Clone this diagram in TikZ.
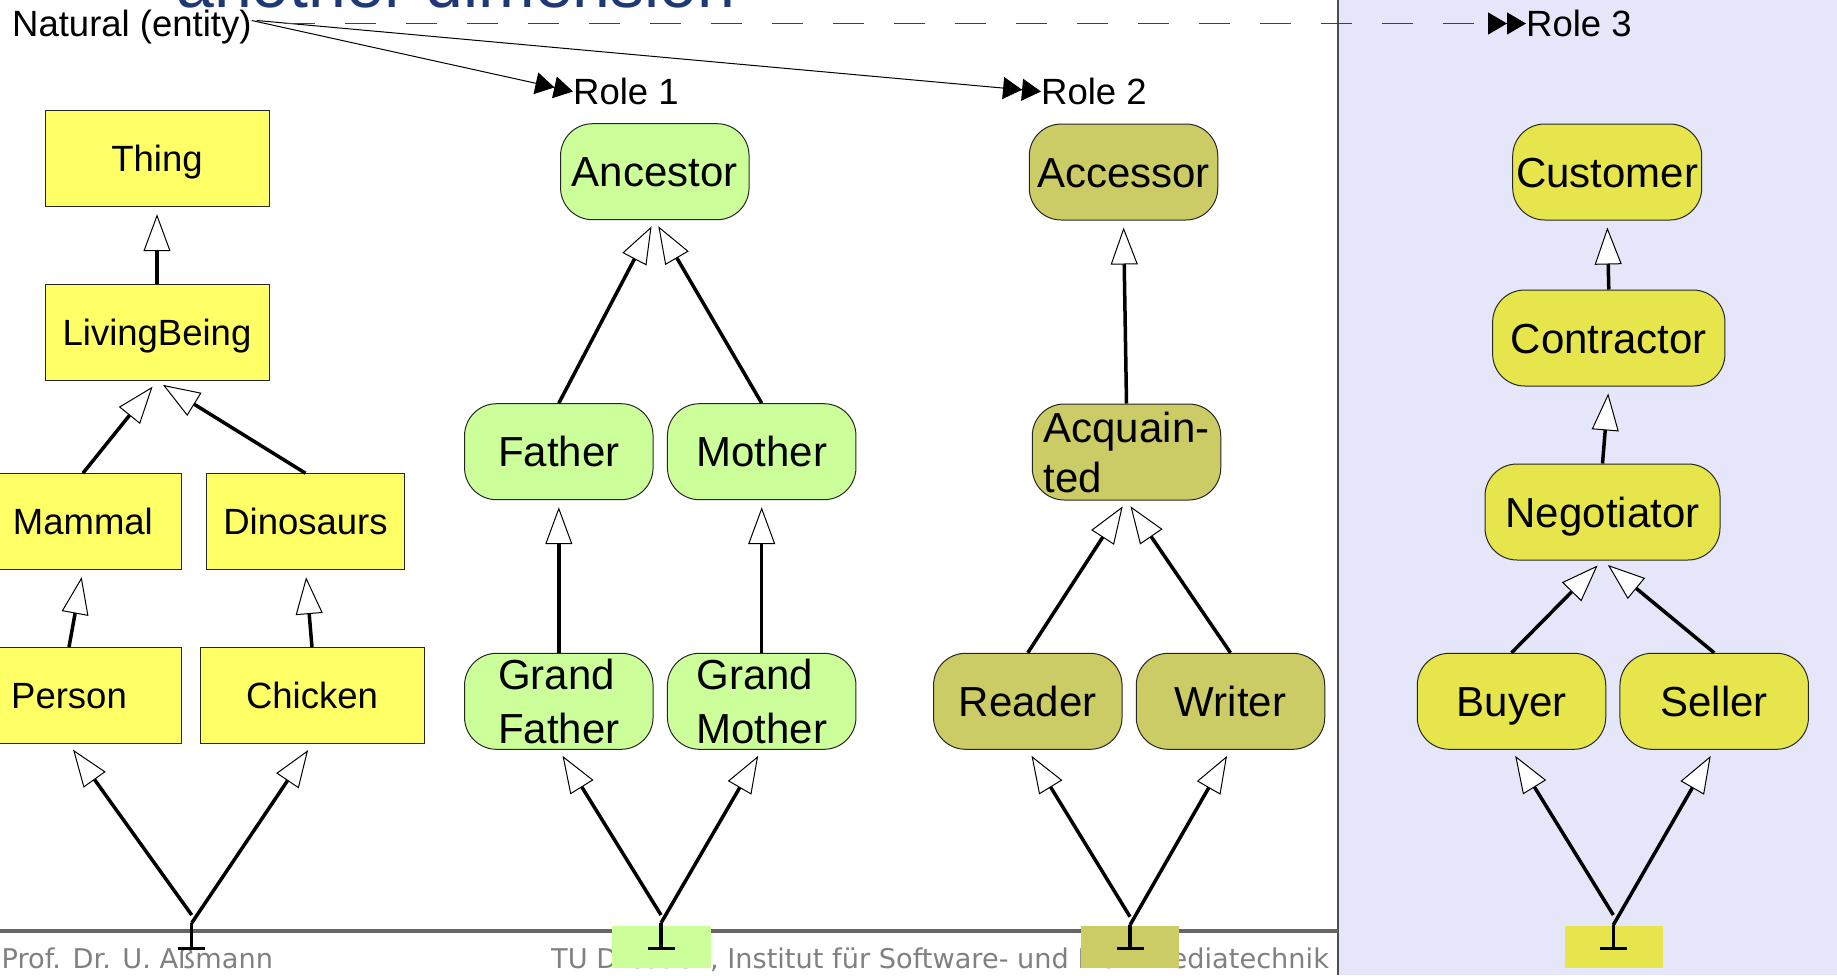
\documentclass[tikz,border=0pt]{standalone}
\usepackage{fontspec}
\setmainfont{Liberation Sans}
\newfontfamily\footfont{DejaVu Sans}
\usetikzlibrary{arrows.meta}
\definecolor{natyellow}{RGB}{255,255,102}
\definecolor{rolegreen}{RGB}{204,255,153}
\definecolor{roleolive}{RGB}{204,204,102}
\definecolor{roleyellow}{RGB}{230,230,76}
\definecolor{panelbg}{RGB}{230,230,250}
\definecolor{titleblue}{RGB}{31,56,120}
\definecolor{footgray}{RGB}{128,128,128}
\definecolor{rulegray}{RGB}{102,102,102}

\begin{document}
\begin{tikzpicture}[x=1pt,y=-1pt,
  cls/.style={draw=black!85, line width=1pt, inner sep=0pt, text=black},
  % single lines are centred on their capitals
  capsmall/.style={text height=26.1pt, text depth=0pt},
  capbig/.style={text height=30.1pt, text depth=0pt},
  natbox/.style={cls, capsmall, rectangle, fill=natyellow, minimum width=224pt, minimum height=96pt,
    font=\fontsize{36.5}{42}\selectfont},
  rolebox/.style={cls, rounded corners=32pt, minimum width=188.5pt, minimum height=96pt,
    align=left, font=\fontsize{42}{51}\selectfont},
  onelinebox/.style={rolebox, capbig},
  gen/.style={line width=3.5pt,
    -{Triangle[length=37pt,width=27pt,fill=white,line width=1pt,sep=7pt]}},
  rolelink/.style={line width=1pt,
    -{Triangle[length=19pt,width=22pt,color=black]Triangle[length=19pt,width=22pt,color=black]}},
  rolelabel/.style={inner sep=0pt, anchor=west, capsmall, font=\fontsize{36.5}{42}\selectfont},
  bottomstem/.style={line width=3.5pt},
  bottombg/.style={minimum width=98.5pt, minimum height=41.7pt, inner sep=0pt, anchor=north},
  foottext/.style={anchor=base west, inner sep=0pt, text=footgray,
    font=\footfont\fontsize{27.2}{30}\selectfont}
]
\useasboundingbox (0,0) rectangle (1837,975);
\clip (0,0) rectangle (1837,975);

% right-hand panel and footer rule
\fill[panelbg] (1338,0) rectangle (1837,975);
\draw[black!70, line width=1.5pt] (1338,0) -- (1338,975);
\draw[rulegray, line width=4pt] (0,931) -- (1338,931);

% footer
\node[foottext] (foot1) at (1.5,968) {Prof. Dr. U. Aßmann};
\node[foottext] (foot2) at (551,968) {TU Dresden, Institut für Software- und Multimediatechnik};

% coloured tags under the bottom symbols
\node[bottombg, fill=rolegreen] (bg1) at (661.5,926) {};
\node[bottombg, fill=roleolive] (bg2) at (1130,926) {};
\node[bottombg, fill=roleyellow] (bg3) at (1613.9,926) {};

% heading
\node[anchor=base west, inner sep=0pt, text=titleblue, font=\fontsize{68}{80}\selectfont]
  (title) at (176,7.5) {another dimension};

% natural type and role labels
\node[rolelabel] (natural) at (12,23.5) {Natural (entity)};
\node[rolelabel] (role1) at (573,91.5) {Role 1};
\node[rolelabel] (role2) at (1041,91.5) {Role 2};
\node[rolelabel] (role3) at (1526,23.5) {Role 3};

\draw[rolelink] ([yshift=3pt]natural.east) -- (role1.west);
\draw[rolelink] ([xshift=5pt,yshift=3pt]natural.east) -- (role2.west);
\draw[rolelink, draw=black!75, line width=1.3pt, dash pattern=on 31pt off 30pt, dash phase=31pt]
  ([xshift=2pt]natural.east) -- (role3.west);

% natural hierarchy
\node[natbox] (thing)   at (157,158.7) {Thing};
\node[natbox] (living)  at (157,332.7) {LivingBeing};
\node[natbox, minimum width=197.7pt] (mammal) at (82.9,521.7) {Mammal};
\node[natbox, minimum width=197.7pt] (dino)   at (305.5,521.7) {Dinosaurs};
\node[natbox] (person)  at (69,695.5) {Person};
\node[natbox] (chicken) at (312,695.8) {Chicken};

% role 1
\node[onelinebox, fill=rolegreen] (ancestor) at (654.8,171.7) {Ancestor};
\node[onelinebox, fill=rolegreen] (father)   at (558.8,451.7) {Father};
\node[onelinebox, fill=rolegreen] (mother)   at (761.7,451.7) {Mother};
\node[rolebox, fill=rolegreen, font=\fontsize{42}{53.5}\selectfont] (gfather) at (558.8,701.3) {Grand\\Father};
\node[rolebox, fill=rolegreen, font=\fontsize{42}{53.5}\selectfont] (gmother) at (761.7,701.3) {Grand\\Mother};

% role 2
\node[onelinebox, fill=roleolive] (accessor) at (1123.5,172) {Accessor};
\node[rolebox, fill=roleolive, font=\fontsize{42}{50}\selectfont] (acq) at (1126.5,452) {Acquain-\\ted};
\node[onelinebox, fill=roleolive] (reader) at (1027.8,701.3) {Reader};
\node[onelinebox, fill=roleolive] (writer) at (1230.5,701.3) {Writer};

% role 3
\node[onelinebox, fill=roleyellow, minimum width=189pt] (customer) at (1607.2,172) {Customer};
\node[onelinebox, fill=roleyellow, minimum width=232.3pt] (contractor) at (1608.8,338) {Contractor};
\node[onelinebox, fill=roleyellow, minimum width=235pt] (negotiator) at (1602.5,512) {Negotiator};
\node[onelinebox, fill=roleyellow] (buyer)  at (1511.5,701.3) {Buyer};
\node[onelinebox, fill=roleyellow] (seller) at (1714.2,701.3) {Seller};

% bottom symbols
\coordinate (b1l) at (191.7,915);  \coordinate (b1) at (191.7,923);  \coordinate (b1bar) at (191.7,948.3);
\coordinate (b2l) at (661,915);    \coordinate (b2) at (661,923);    \coordinate (b2bar) at (661,948.3);
\coordinate (b3l) at (1130,916.7); \coordinate (b3) at (1130,925);   \coordinate (b3bar) at (1130,948.3);
\coordinate (b4l) at (1613.3,915); \coordinate (b4) at (1613.3,925); \coordinate (b4bar) at (1613.3,948.3);

\foreach \b in {b1,b2,b3,b4}{
  \draw[bottomstem] (\b) -- (\b bar);
  \draw[bottomstem] ([xshift=-13.5pt]\b bar) -- ([xshift=13.5pt]\b bar);
}

% generalisations
\draw[gen] (living.north) -- (thing.south);
\draw[gen] (mammal.north) -- (living.south);
\draw[gen] (dino.north) -- (living.south);
\draw[gen] (person.north) -- (mammal.south);
\draw[gen] (chicken.north) -- (dino.south);
\draw[gen] (b1l) -- (person.south);
\draw[gen] (b1) -- (chicken.south);

\draw[gen] (father.north) -- (ancestor.south);
\draw[gen] (mother.north) -- (ancestor.south);
\draw[gen] (gfather.north) -- (father.south);
\draw[gen] (gmother.north) -- (mother.south);
\draw[gen] (b2l) -- (gfather.south);
\draw[gen] (b2) -- (gmother.south);

\draw[gen] (acq.north) -- (accessor.south);
\draw[gen] (reader.north) -- (acq.south);
\draw[gen] (writer.north) -- (acq.south);
\draw[gen] (b3l) -- (reader.south);
\draw[gen] (b3) -- (writer.south);

\draw[gen] (contractor.north) -- (customer.south);
\draw[gen] (negotiator.north) -- (contractor.south);
\draw[gen] (buyer.north) -- (negotiator.south);
\draw[gen] (seller.north) -- (negotiator.south);
\draw[gen] (b4l) -- (buyer.south);
\draw[gen] (b4) -- (seller.south);
\end{tikzpicture}
\end{document}
